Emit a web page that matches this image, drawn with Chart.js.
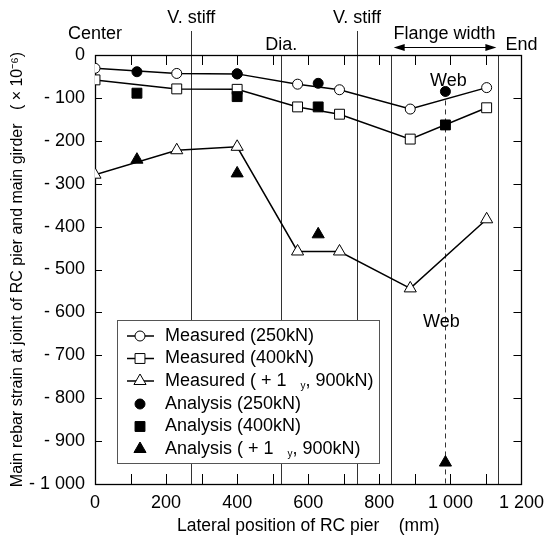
<!DOCTYPE html>
<html><head><meta charset="utf-8">
<script src="https://cdn.jsdelivr.net/npm/chart.js@4/dist/chart.umd.min.js"></script>
<style>html,body{margin:0;padding:0;background:#fff}</style>
</head><body>
<canvas id="c" width="552" height="540" style="width:552px;height:540px;display:block"></canvas>
<script>
// ---- data (mm, x10^-6) ----
const xMeasured   = [0, 230, 400, 570, 688, 887, 1102];
const measured250 = [-31, -43, -44, -68, -81, -126, -76];
const measured400 = [-58, -79, -80, -121, -138, -196, -123];
const measured900 = [-279, -222, -214, -458, -458, -544, -383];
const xAnalysis   = [118, 400, 628, 986];
const analysis250 = [-39, -44, -66, -85];
const analysis400 = [-89, -97, -121, -163];
const analysis900 = [-244, -276, -418, -950];
const sectionLines  = [271, 524, 737, 832, 1135];
const sectionLabels = ['V. stiff', 'Dia.', 'V. stiff', '', ''];
const webPosition = 986;
const xRange = [0, 1200];
const yRange = [-1000, 0];

const FONT = '"Liberation Sans", Arial, Helvetica, sans-serif';
const TXT = 18;
const xy = (xs, ys) => xs.map((v, i) => ({x: v, y: ys[i]}));
const fmtNum = n => { const s = String(Math.abs(n)); return s.length > 3 ? s.slice(0, -3) + ' ' + s.slice(-3) : s; };

const overlay = {
  id: 'overlay',
  beforeDatasetsDraw(chart) {
    const {ctx, chartArea: a, scales: {x, y}} = chart;
    ctx.save();
    // section lines
    ctx.strokeStyle = '#333'; ctx.lineWidth = 1;
    sectionLines.forEach((v, i) => {
      const px = Math.round(x.getPixelForValue(v)) + 0.5;
      const top = sectionLabels[i] === 'V. stiff' ? 31 : a.top;
      ctx.beginPath(); ctx.moveTo(px, top); ctx.lineTo(px, a.bottom); ctx.stroke();
    });
    // web dashed line
    const wx = Math.round(x.getPixelForValue(webPosition)) + 0.5;
    ctx.setLineDash([5, 4]);
    ctx.beginPath(); ctx.moveTo(wx, y.getPixelForValue(analysis250[3])); ctx.lineTo(wx, a.bottom); ctx.stroke();
    ctx.setLineDash([]);
    // inward ticks
    ctx.strokeStyle = '#000'; ctx.lineWidth = 1;
    x.ticks.forEach(t => {
      if (t.value <= xRange[0] || t.value >= xRange[1]) return;
      const px = Math.round(x.getPixelForValue(t.value)) + 0.5;
      ctx.beginPath(); ctx.moveTo(px, a.bottom); ctx.lineTo(px, a.bottom - 10);
      ctx.moveTo(px, a.top); ctx.lineTo(px, a.top + 10); ctx.stroke();
    });
    y.ticks.forEach(t => {
      if (t.value <= yRange[0] || t.value >= yRange[1]) return;
      const py = Math.round(y.getPixelForValue(t.value)) + 0.5;
      ctx.beginPath(); ctx.moveTo(a.left, py); ctx.lineTo(a.left + 7, py);
      ctx.moveTo(a.right, py); ctx.lineTo(a.right - 8, py); ctx.stroke();
    });
    // frame
    ctx.lineWidth = 1.3;
    ctx.strokeRect(Math.round(a.left) + 0.5, Math.round(a.top) + 0.5, Math.round(a.right - a.left), Math.round(a.bottom - a.top));
    ctx.restore();
  },
  afterDraw(chart) {
    const {ctx, chartArea: a, scales: {x, y}} = chart;
    ctx.save();
    ctx.fillStyle = '#000';
    ctx.font = TXT + 'px ' + FONT;
    ctx.textAlign = 'center'; ctx.textBaseline = 'middle';
    // top annotations
    ctx.fillText('Center', x.getPixelForValue(0), 34);
    sectionLabels.forEach((lab, i) => {
      if (!lab) return;
      const px = x.getPixelForValue(sectionLines[i]);
      ctx.fillText(lab, px, lab === 'Dia.' ? 45 : 18);
    });
    ctx.fillText('Flange width', x.getPixelForValue((sectionLines[3] + sectionLines[4]) / 2), 34);
    ctx.fillText('End', x.getPixelForValue(1200), 45);
    // arrow
    const ax1 = x.getPixelForValue(sectionLines[3]) + 3, ax2 = x.getPixelForValue(sectionLines[4]) - 2, ay = 47.5;
    ctx.strokeStyle = '#000'; ctx.lineWidth = 1;
    ctx.beginPath(); ctx.moveTo(ax1 + 6, ay); ctx.lineTo(ax2 - 6, ay); ctx.stroke();
    ctx.beginPath(); ctx.moveTo(ax1, ay); ctx.lineTo(ax1 + 11, ay - 3.5); ctx.lineTo(ax1 + 11, ay + 3.5); ctx.closePath(); ctx.fill();
    ctx.beginPath(); ctx.moveTo(ax2, ay); ctx.lineTo(ax2 - 11, ay - 3.5); ctx.lineTo(ax2 - 11, ay + 3.5); ctx.closePath(); ctx.fill();
    // web labels
    ctx.fillText('Web', x.getPixelForValue(webPosition) + 3, y.getPixelForValue(-60));
    ctx.fillText('Web', x.getPixelForValue(webPosition) - 4, y.getPixelForValue(-623));
    // legend
    const L = 117, T = 320, R = 379, B = 463;
    ctx.fillStyle = '#fff'; ctx.fillRect(L, T, R - L, B - T);
    ctx.strokeStyle = '#555'; ctx.lineWidth = 1;
    ctx.strokeRect(L + 0.5, T + 0.5, R - L, B - T);
    const rowY = [336, 358.5, 381, 404, 426.5, 449];
    chart.data.datasets.forEach((ds, r) => {
      const cy = rowY[r], cx = 140;
      ctx.strokeStyle = '#000'; ctx.lineWidth = 1.5;
      if (ds.showLine !== false) { ctx.beginPath(); ctx.moveTo(127, cy); ctx.lineTo(154, cy); ctx.stroke(); }
      ctx.fillStyle = ds.pointBackgroundColor || ds.backgroundColor;
      ctx.strokeStyle = '#000'; ctx.lineWidth = 1;
      Chart.helpers.drawPoint(ctx, {pointStyle: ds.pointStyle, radius: ds.pointRadius, rotation: 0, borderWidth: 1}, cx, cy);
      ctx.fillStyle = '#000'; ctx.textAlign = 'left'; ctx.textBaseline = 'middle';
      ctx.font = TXT + 'px ' + FONT;
      const parts = ds.label.split('|');
      let tx = 165;
      ctx.fillText(parts[0], tx, cy);
      if (parts.length > 1) {
        tx += ctx.measureText(parts[0]).width + 14;
        ctx.font = '10px ' + FONT;
        ctx.fillText(parts[1], tx, cy + 5);
        tx += ctx.measureText(parts[1]).width;
        ctx.font = TXT + 'px ' + FONT;
        ctx.fillText(parts[2], tx, cy);
      }
    });
    ctx.restore();
  }
};

const filled = (label, xs, ys, style, r) => ({label, data: xy(xs, ys), showLine: false, pointStyle: style, pointRadius: r,
  backgroundColor: '#000', borderColor: '#000', pointBorderWidth: 1, order: 0});
const measured = (label, xs, ys, style, r) => ({label, data: xy(xs, ys), pointStyle: style, pointRadius: r,
  borderColor: '#000', borderWidth: 1.5, pointBackgroundColor: '#fff', pointBorderColor: '#000', pointBorderWidth: 1, backgroundColor: '#fff', order: 1});

new Chart(document.getElementById('c'), {
  type: 'line',
  data: {datasets: [
    measured('Measured (250kN)', xMeasured, measured250, 'circle', 5),
    measured('Measured (400kN)', xMeasured, measured400, 'rect', 7),
    measured('Measured ( + 1|y|, 900kN)', xMeasured, measured900, 'triangle', 7),
    filled('Analysis (250kN)', xAnalysis, analysis250, 'circle', 5),
    filled('Analysis (400kN)', xAnalysis, analysis400, 'rect', 7),
    filled('Analysis ( + 1|y|, 900kN)', xAnalysis, analysis900, 'triangle', 7)
  ]},
  options: {
    responsive: false, animation: false, devicePixelRatio: 1,
    layout: {padding: {top: 55, right: 28, left: 0, bottom: 0}},
    elements: {line: {tension: 0}},
    plugins: {legend: {display: false}, tooltip: {enabled: false}},
    scales: {
      x: {type: 'linear', min: xRange[0], max: xRange[1],
        grid: {display: false, drawTicks: false}, border: {display: false},
        ticks: {stepSize: 100, autoSkip: false, maxRotation: 0, padding: 8, color: '#000', font: {size: TXT, family: FONT},
          callback: v => (v % 200 === 0 ? fmtNum(v) : '')},
        title: {display: true, text: 'Lateral position of RC pier    (mm)', color: '#000', font: {size: 17.5, family: FONT}, padding: {top: 0, bottom: 3}},
        afterFit(s) { s.height = 56; }},
      y: {min: yRange[0], max: yRange[1],
        grid: {display: false, drawTicks: false}, border: {display: false},
        ticks: {stepSize: 100, padding: 10, color: '#000', font: {size: TXT, family: FONT},
          callback: v => (v === 0 ? '0' : '- ' + fmtNum(v))},
        title: {display: true, text: 'Main rebar strain at joint of RC pier and main girder   ( × 10⁻⁶)', color: '#000', font: {size: 16, family: FONT}, padding: {top: 8, bottom: 0}},
        afterFit(s) { s.width = 95; }}
    }
  },
  plugins: [overlay]
});
</script>
</body></html>
